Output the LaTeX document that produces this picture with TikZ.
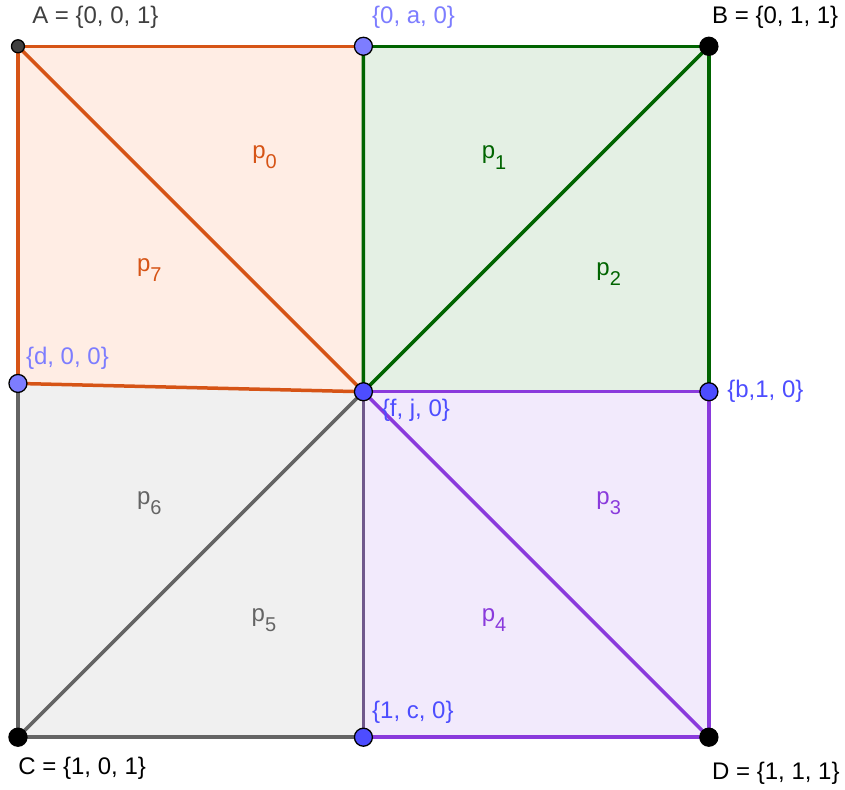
\documentclass[tikz,border=0pt]{standalone}
\usepackage{fontspec}
\setmainfont{Liberation Sans}
\usepackage{xcolor}
\usepackage{tikz}
\definecolor{porange}{RGB}{214,84,22}
\definecolor{porangefill}{RGB}{255,237,228}
\definecolor{pgreen}{RGB}{0,100,0}
\definecolor{pgreenfill}{RGB}{228,240,228}
\definecolor{ppurple}{RGB}{138,58,220}
\definecolor{ppurplefill}{RGB}{242,234,252}
\definecolor{pgray}{RGB}{100,100,100}
\definecolor{pgrayfill}{RGB}{240,240,240}
\definecolor{pmix}{RGB}{112,88,140}
\definecolor{plblue}{RGB}{125,125,255}
\definecolor{pdblue}{RGB}{77,77,255}
\newcommand{\pface}[1]{p\raisebox{-0.42em}{\fontsize{20}{22}\selectfont #1}}
\tikzset{
  edge/.style={line width=3.5pt, line join=round},
  vtx/.style={circle, draw=black, line width=1.3pt, inner sep=0pt, minimum size=18pt},
  lbl/.style={anchor=west, inner sep=1pt, font=\fontsize{24}{28}\selectfont},
  plbl/.style={inner sep=1pt, font=\fontsize{24}{28}\selectfont}
}

\begin{document}
\begin{tikzpicture}[x=69.1pt,y=69.1pt]
\useasboundingbox (-0.26,-0.75) rectangle (11.97,10.67);
% corners and mid points
\coordinate (A) at (0,10);
\coordinate (B) at (10,10);
\coordinate (C) at (0,0);
\coordinate (D) at (10,0);
\coordinate (top) at (5,10);
\coordinate (left) at (0,5.12);
\coordinate (mid) at (5,5);
\coordinate (right) at (10,5);
\coordinate (bot) at (5,0);
% faces
\fill[porangefill] (A) -- (top) -- (mid) -- (left) -- cycle;
\fill[pgreenfill] (top) -- (B) -- (right) -- (mid) -- cycle;
\fill[ppurplefill] (mid) -- (right) -- (D) -- (bot) -- cycle;
\fill[pgrayfill] (left) -- (mid) -- (bot) -- (C) -- cycle;
% edges
\draw[edge, pgray] (left) -- (C) -- (bot);
\draw[edge, pgray] (C) -- (mid);
\draw[edge, porange] (left) -- (A) -- (top);
\draw[edge, porange] (A) -- (mid) -- (left);
\draw[edge, pgreen] (top) -- (B) -- (right);
\draw[edge, pgreen] (B) -- (mid) -- (top);
\draw[edge, ppurple] (mid) -- (right) -- (D) -- (bot);
\draw[edge, ppurple] (mid) -- (D);
\draw[edge, pmix] (mid) -- (bot);
% vertices
\node[vtx, fill=black!75, minimum size=13pt] (vA) at (A) {};
\node[vtx, fill=black] (vB) at (B) {};
\node[vtx, fill=black] (vC) at (C) {};
\node[vtx, fill=black] (vD) at (D) {};
\node[vtx, fill=plblue] (vtop) at (top) {};
\node[vtx, fill=plblue] (vleft) at (left) {};
\node[vtx, fill=pdblue] (vmid) at (mid) {};
\node[vtx, fill=pdblue] (vright) at (right) {};
\node[vtx, fill=pdblue] (vbot) at (bot) {};
% vertex labels
\node[lbl, black!75] (lA) at (0.19,10.42) {A = \{0, 0, 1\}};
\node[lbl, plblue] (ltop) at (5.11,10.42) {\{0, a, 0\}};
\node[lbl, black] (lB) at (10.03,10.42) {B = \{0, 1, 1\}};
\node[lbl, plblue] (lleft) at (0.10,5.48) {\{d, 0, 0\}};
\node[lbl, pdblue] (lmid) at (5.25,4.73) {\{f, j, 0\}};
\node[lbl, pdblue] (lright) at (10.25,5.01) {\{b,1, 0\}};
\node[lbl, pdblue] (lbot) at (5.11,0.36) {\{1, c, 0\}};
\node[lbl, black] (lC) at (-0.01,-0.45) {C = \{1, 0, 1\}};
\node[lbl, black] (lD) at (10.03,-0.52) {D = \{1, 1, 1\}};
% face labels
\node[plbl, porange] (p0) at (3.57,8.39) {\pface{0}};
\node[plbl, pgreen] (p1) at (6.89,8.39) {\pface{1}};
\node[plbl, porange] (p7) at (1.90,6.76) {\pface{7}};
\node[plbl, pgreen] (p2) at (8.55,6.71) {\pface{2}};
\node[plbl, pgray] (p6) at (1.90,3.39) {\pface{6}};
\node[plbl, ppurple] (p3) at (8.55,3.39) {\pface{3}};
\node[plbl, pgray] (p5) at (3.56,1.69) {\pface{5}};
\node[plbl, ppurple] (p4) at (6.89,1.69) {\pface{4}};
\end{tikzpicture}
\end{document}
